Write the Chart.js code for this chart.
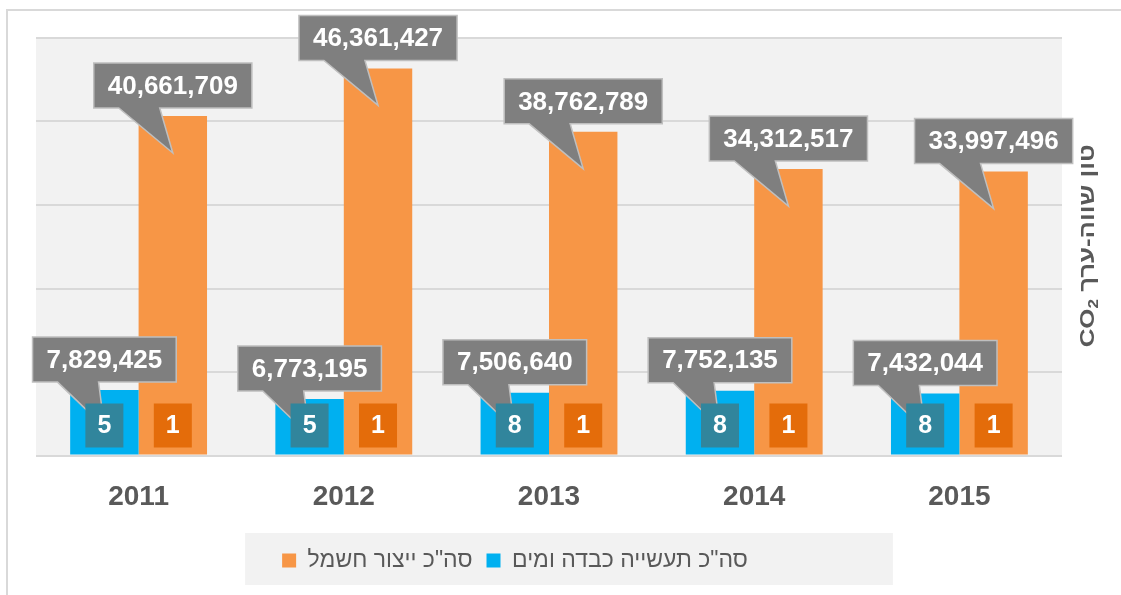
<!DOCTYPE html>
<html>
<head>
<meta charset="utf-8">
<script src="https://cdn.jsdelivr.net/npm/chart.js@4"></script>
<style>
  body { margin: 0; background: #fff; }
  #wrap { position: relative; width: 1121px; height: 595px; overflow: hidden; }
  #frame { position: absolute; left: 6px; top: 9px; width: 2000px; height: 2000px;
           border-top: 2px solid #d9d9d9; border-left: 2px solid #d9d9d9; }
  canvas { position: absolute; left: 0; top: 0; }
</style>
</head>
<body>
<div id="wrap">
  <div id="frame"></div>
  <canvas id="myChart" width="1121" height="595"></canvas>
</div>
<script>
var years = ['2011', '2012', '2013', '2014', '2015'];
var industryValues = [7829425, 6773195, 7506640, 7752135, 7432044];
var electricityValues = [40661709, 46361427, 38762789, 34312517, 33997496];
var industryCounts = [5, 5, 8, 8, 8];
var electricityCounts = [1, 1, 1, 1, 1];
var seriesNames = ['סה"כ תעשייה כבדה ומים', 'סה"כ ייצור חשמל'];
var yTitle = 'טון שווה-ערך';

// gray callouts with a pointer + small count boxes at the bottom of the bars
const calloutPlugin = {
  id: 'callouts',
  afterLayout(chart) {
    // excel puts the legend a bit left of centre
    chart.legend.left -= 34;
    chart.legend.right -= 34;
  },
  beforeDraw(chart) {
    const {ctx, chartArea} = chart;
    ctx.save();
    ctx.fillStyle = '#f2f2f2';
    ctx.fillRect(chartArea.left, chartArea.top, chartArea.right - chartArea.left, chartArea.bottom - chartArea.top);
    // legend background
    const hb = chart.legend.legendHitBoxes;
    if (hb && hb.length) {
      const l = hb[0].left - 37;
      const r = hb[hb.length - 1].left + hb[hb.length - 1].width + 145;
      ctx.fillRect(l, 533, r - l, 52);
    }
    ctx.restore();
  },
  afterDatasetsDraw(chart) {
    const ctx = chart.ctx;
    ctx.save();
    ctx.font = 'bold 26px "Liberation Sans"';
    ctx.textAlign = 'center';
    ctx.textBaseline = 'middle';
    chart.data.datasets.forEach((ds, i) => {
      chart.getDatasetMeta(i).data.forEach((bar, j) => {
        const txt = ds.data[j].toLocaleString('en-US');
        const w = ctx.measureText(txt).width + 28;
        const h = 45;
        const left = bar.x - w / 2;
        const bottom = bar.y - 8;
        const top = bottom - h;
        ctx.beginPath();
        ctx.moveTo(left, top);
        ctx.lineTo(left + w, top);
        ctx.lineTo(left + w, bottom);
        ctx.lineTo(left + 66, bottom);
        ctx.lineTo(bar.x, bar.y + 37);
        ctx.lineTo(left + 25, bottom);
        ctx.lineTo(left, bottom);
        ctx.closePath();
        ctx.fillStyle = '#7f7f7f';
        ctx.fill();
        ctx.strokeStyle = '#bfbfbf';
        ctx.lineWidth = 1.5;
        ctx.stroke();
        ctx.fillStyle = '#ffffff';
        ctx.fillText(txt, bar.x, top + h / 2 + 1);
      });
    });
    const counts = [industryCounts, electricityCounts];
    const boxColors = ['#31859c', '#e46c0a'];
    ctx.font = 'bold 25px "Liberation Sans"';
    chart.data.datasets.forEach((ds, i) => {
      chart.getDatasetMeta(i).data.forEach((bar, j) => {
        const bw = 38, bh = 44;
        const by = bar.base - 7 - bh;
        ctx.fillStyle = boxColors[i];
        ctx.fillRect(bar.x - bw / 2, by, bw, bh);
        ctx.fillStyle = '#ffffff';
        ctx.fillText(String(counts[i][j]), bar.x, by + bh / 2 + 1);
      });
    });
    ctx.restore();
  },
  afterDraw(chart) {
    // right side axis title, reads bottom to top
    const {ctx, chartArea} = chart;
    ctx.save();
    ctx.translate(chartArea.right + 26, (chartArea.top + chartArea.bottom) / 2 - 1);
    ctx.rotate(-Math.PI / 2);
    ctx.fillStyle = '#595959';
    ctx.textBaseline = 'middle';
    ctx.textAlign = 'left';
    const big = 'bold 21px "Liberation Sans"';
    const small = 'bold 14px "Liberation Sans"';
    ctx.font = big;
    const wCO = ctx.measureText('CO').width;
    const wSp = ctx.measureText(' ').width;
    const wHe = ctx.measureText(yTitle).width;
    ctx.font = small;
    const w2 = ctx.measureText('2').width;
    const total = wCO + w2 + wSp + wHe;
    ctx.scale(203 / total, 1);
    let x = -total / 2;
    ctx.font = big;
    ctx.fillText('CO', x, 0);
    x += wCO;
    ctx.font = small;
    ctx.fillText('2', x, 6);
    x += w2 + wSp;
    ctx.font = big;
    ctx.fillText(yTitle, x, 0);
    ctx.restore();
  }
};

const ctx = document.getElementById('myChart').getContext('2d');
const chart = new Chart(ctx, {
  type: 'bar',
  data: {
    labels: years,
    datasets: [{
      label: seriesNames[0],
      data: industryValues,
      backgroundColor: '#00b0f0'
    }, {
      label: seriesNames[1],
      data: electricityValues,
      backgroundColor: '#f79646'
    }]
  },
  options: {
    responsive: false,
    animation: false,
    layout: { padding: { left: 36, right: 59, top: 38, bottom: 13 } },
    datasets: { bar: { categoryPercentage: 0.667, barPercentage: 1 } },
    plugins: {
      legend: {
        position: 'bottom',
        reverse: true,
        labels: {
          boxWidth: 14,
          boxHeight: 14,
          padding: 14,
          color: '#595959',
          font: { family: '"Liberation Sans"', size: 23 }
        }
      },
      tooltip: { enabled: false }
    },
    scales: {
      x: {
        grid: { display: false },
        border: { display: false },
        ticks: {
          color: '#595959',
          padding: 17,
          font: { family: '"Liberation Sans"', size: 28, weight: 'bold' }
        },
        afterFit: s => { s.height = 79.5; }
      },
      y: {
        min: 0,
        max: 50000000,
        ticks: { display: false, stepSize: 10000000 },
        border: { display: false },
        grid: { color: '#d9d9d9', lineWidth: 2, drawTicks: false }
      }
    }
  },
  plugins: [calloutPlugin]
});
</script>
</body>
</html>
